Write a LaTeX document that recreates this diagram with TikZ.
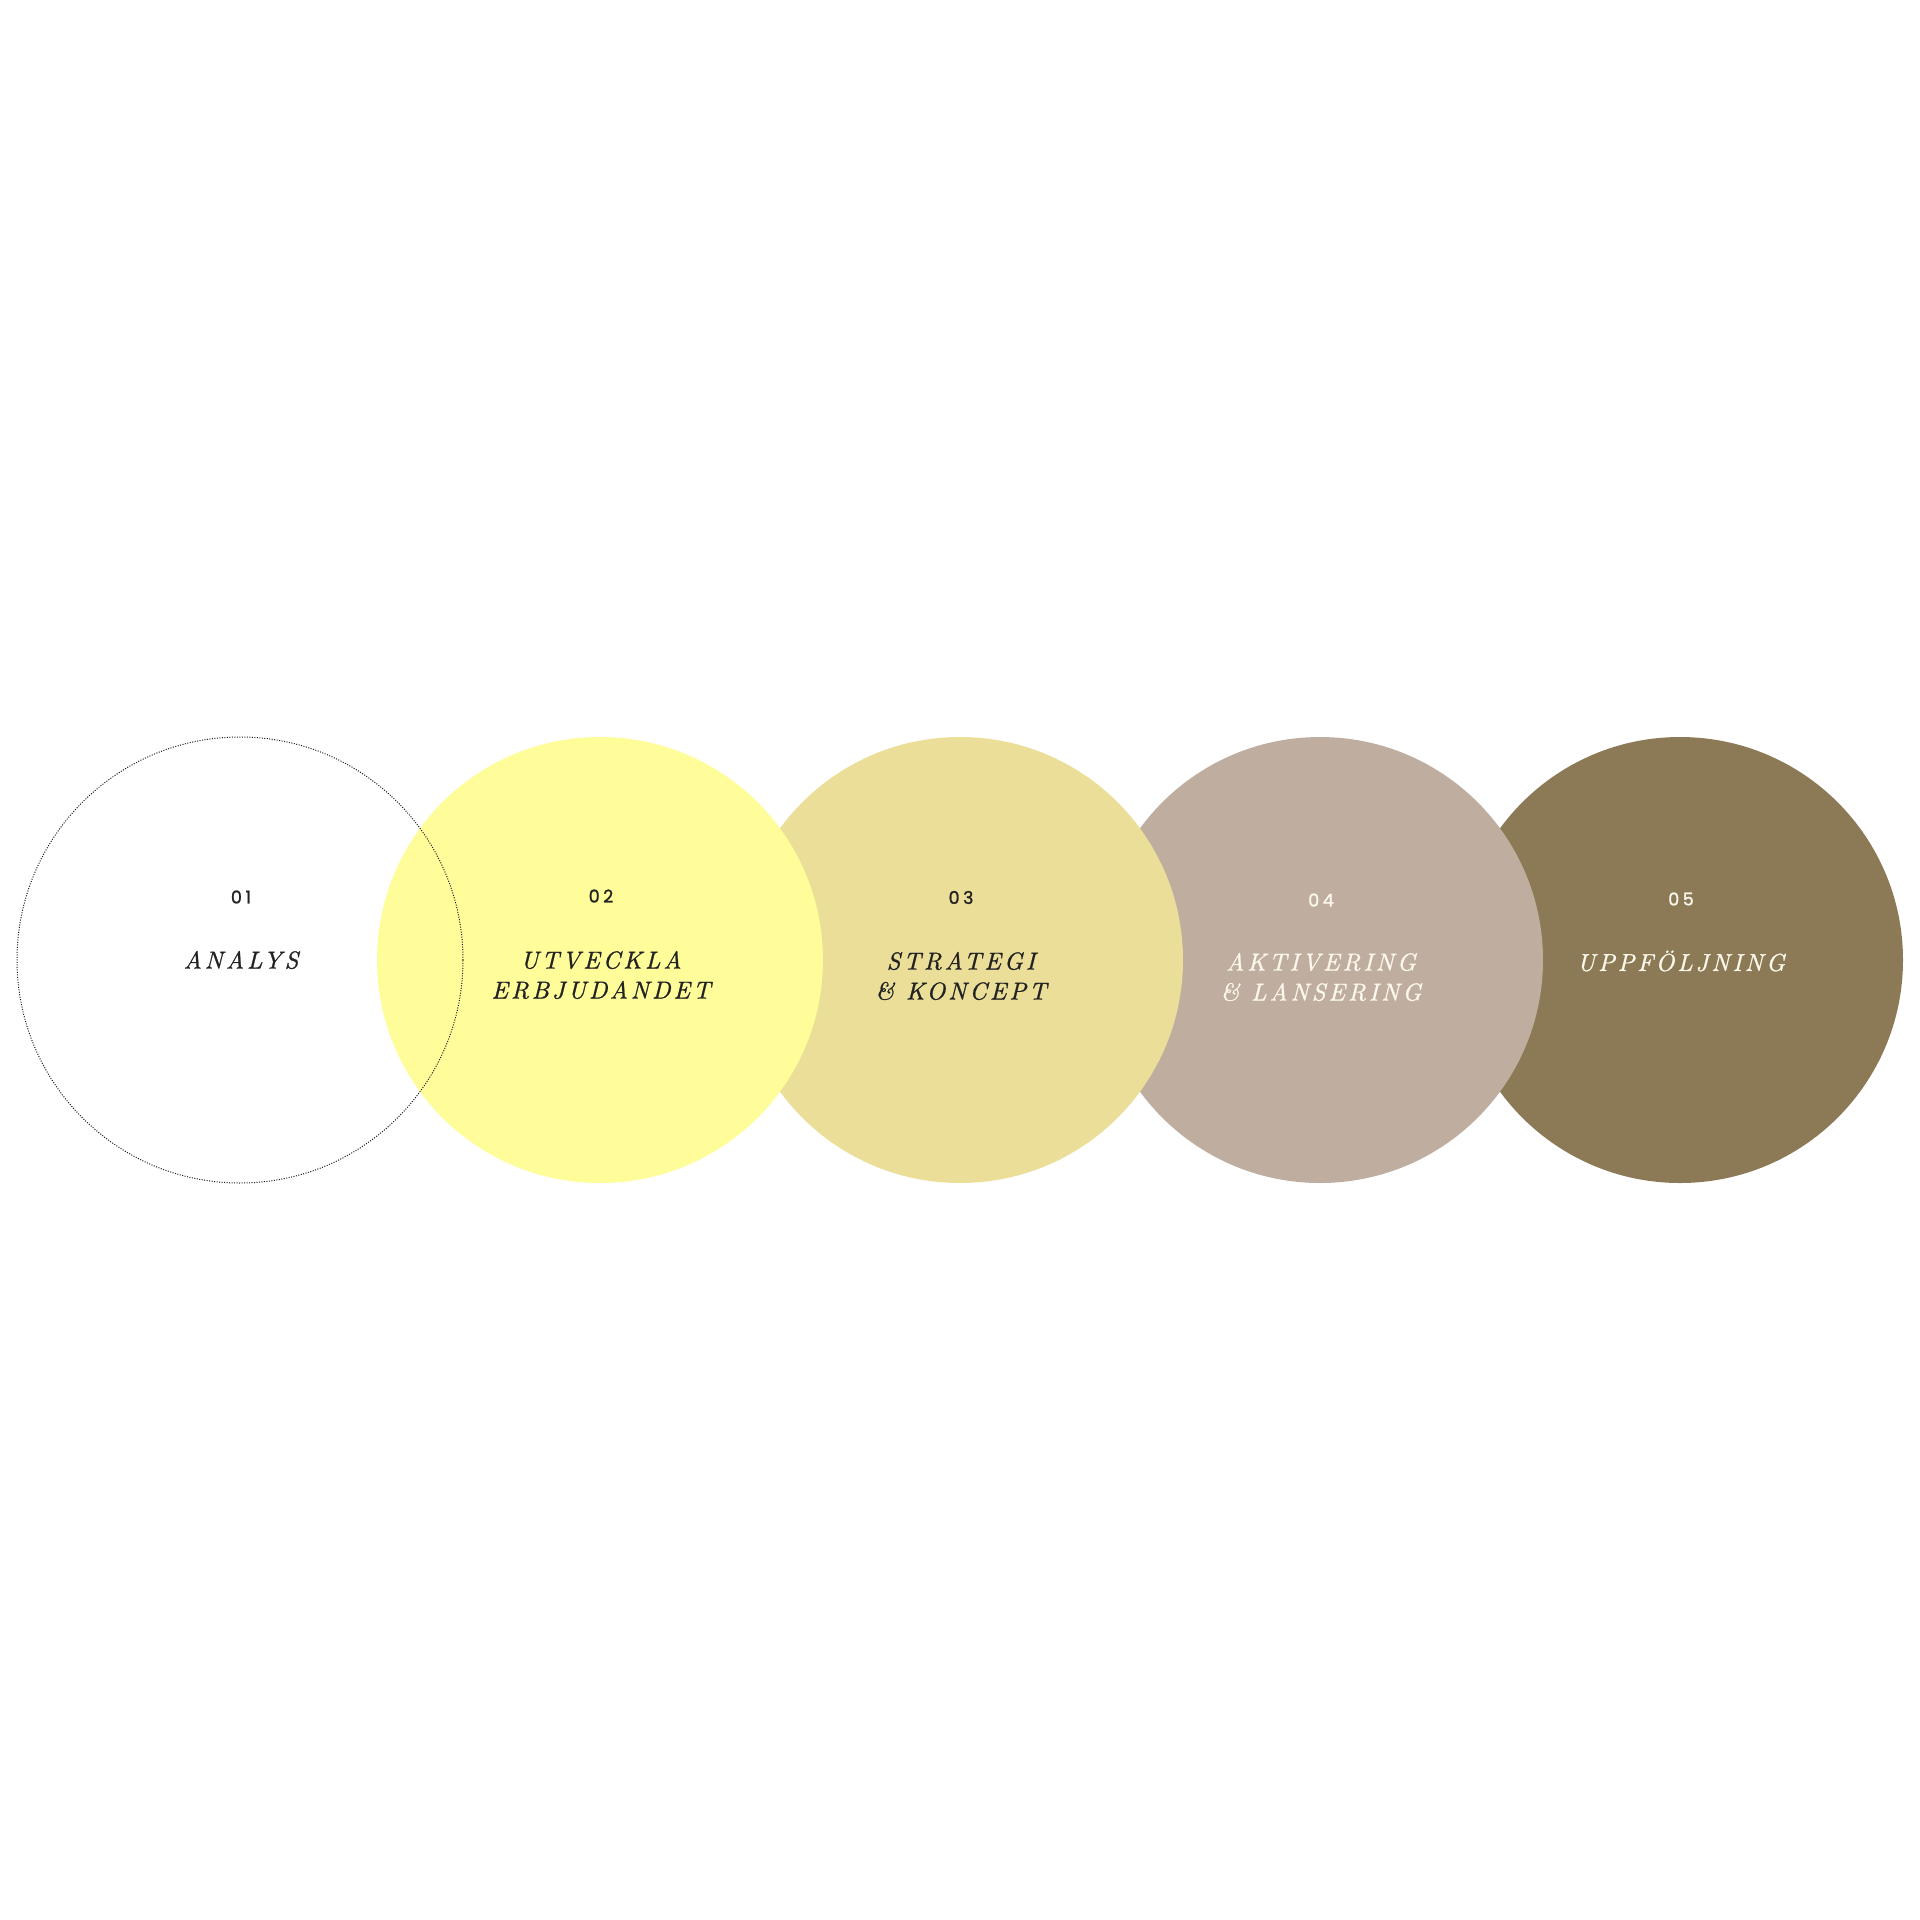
\documentclass[tikz,border=0pt]{standalone}
\usepackage{fontspec}
\newfontfamily\numfont{Poppins}[LetterSpace=20, FakeBold=1.2]
\newfontfamily\labfont{lmroman10-italic}[Extension=.otf, LetterSpace=12, FakeBold=0.9]
\definecolor{cyellow}{HTML}{FEFD9A}
\definecolor{ckhaki}{HTML}{EADE98}
\definecolor{ctaupe}{HTML}{BFAE9F}
\definecolor{colive}{HTML}{8B7A55}
\definecolor{cdark}{HTML}{222222}
\definecolor{clight}{HTML}{FCF8EC}
\tikzset{
  disc/.style={circle, minimum size=446pt, inner sep=0pt, draw=none},
  ring/.style={circle, minimum size=446pt, inner sep=0pt, draw=black!90, line width=1pt, dash pattern=on 1pt off 1.5pt},
  num/.style={font=\numfont\fontsize{17.5}{17.5}\selectfont, inner sep=0pt},
  lab/.style={font=\labfont\fontsize{24.5}{30}\selectfont, align=center, inner sep=0pt},
}
\begin{document}
\begin{tikzpicture}[x=1pt, y=-1pt]
\useasboundingbox (0,0) rectangle (1920,1920);
\fill[white] (0,0) rectangle (1920,1920);
\node[disc, fill=colive] (c5) at (1680,960) {};
\node[disc, fill=ctaupe] (c4) at (1320,960) {};
\node[disc, fill=ckhaki] (c3) at (960,960) {};
\node[disc, fill=cyellow] (c2) at (600,960) {};
\node[ring] (c1) at (240,960) {};
\node[num, text=cdark] (n1) at (241,897) {01};
\node[num, text=cdark] (n2) at (601,896) {02};
\node[num, text=cdark] (n3) at (961,897.5) {03};
\node[num, text=clight] (n4) at (1321,900) {04};
\node[num, text=clight] (n5) at (1681,899) {05};
\node[lab, text=cdark] (l1) at (241,960) {ANALYS};
\node[lab, text=cdark] (l2) at (601,975) {UTVECKLA\\ERBJUDANDET};
\node[lab, text=cdark] (l3) at (961,976) {STRATEGI\\\& KONCEPT};
\node[lab, text=clight] (l4) at (1321,977) {AKTIVERING\\\& LANSERING};
\node[lab, text=clight] (l5) at (1681,961) {UPPFÖLJNING};
\end{tikzpicture}
\end{document}
